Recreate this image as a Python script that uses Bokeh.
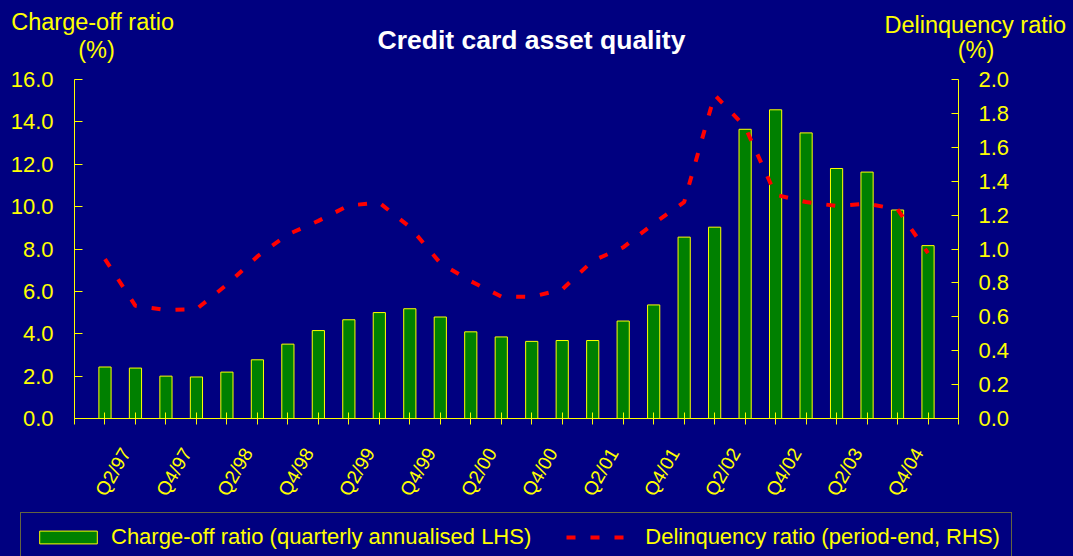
import math
from bokeh.plotting import figure
from bokeh.models import (Range1d, LinearAxis, FixedTicker, NumeralTickFormatter,
                          Label, Legend, LegendItem, ColumnDataSource)
from bokeh.embed import file_html
from bokeh.resources import INLINE

# ---------------- data ----------------
quarters = ["Q1/97", "Q2/97", "Q3/97", "Q4/97",
            "Q1/98", "Q2/98", "Q3/98", "Q4/98",
            "Q1/99", "Q2/99", "Q3/99", "Q4/99",
            "Q1/00", "Q2/00", "Q3/00", "Q4/00",
            "Q1/01", "Q2/01", "Q3/01", "Q4/01",
            "Q1/02", "Q2/02", "Q3/02", "Q4/02",
            "Q1/03", "Q2/03", "Q3/03", "Q4/03"]

# labels shown on the axis (every second quarter, as printed in the original)
tick_labels = ["Q2/97", "Q4/97", "Q2/98", "Q4/98", "Q2/99", "Q4/99", "Q2/00",
               "Q4/00", "Q2/01", "Q4/01", "Q2/02", "Q4/02", "Q2/03", "Q4/04"]

charge_off = [2.43, 2.38, 2.00, 1.96, 2.19, 2.77, 3.51, 4.15, 4.66, 5.00,
              5.18, 4.79, 4.09, 3.85, 3.64, 3.68, 3.68, 4.60, 5.36, 8.56,
              9.03, 13.65, 14.57, 13.48, 11.80, 11.63, 9.84, 8.16]

delinquency = [0.94, 0.665, 0.64, 0.645, 0.79, 0.956, 1.086, 1.166, 1.257, 1.273,
               1.13, 0.917, 0.81, 0.72, 0.717, 0.762, 0.93, 1.01, 1.15, 1.277,
               1.91, 1.72, 1.32, 1.277, 1.254, 1.267, 1.234, 0.976]

series_names = ["Charge-off ratio (quarterly annualised LHS)",
                "Delinquency ratio (period-end, RHS)"]

# ---------------- styling ----------------
NAVY = "#000080"
YELLOW = "#FFFF00"
GREEN = "#008000"
RED = "#FF0000"
FONT = "Liberation Sans"
DASH = "9 15"

W = 1073
TOP_H = 68           # heading strip
FOOT_H = 49          # legend strip
MAIN_H = 556 - TOP_H - FOOT_H
ML, MR, MT = 74, 115, 11
MB = MAIN_H - MT - 343
N_POS = len(quarters) + 1  # positions 0 .. 29

def strip(height, xr, yr):
    f = figure(width=W, height=height, x_range=xr, y_range=yr,
               output_backend="svg", toolbar_location=None,
               x_axis_location=None, y_axis_location=None,
               background_fill_color=NAVY, border_fill_color=NAVY,
               outline_line_color=None, min_border=0)
    f.xgrid.visible = False
    f.ygrid.visible = False
    return f

# ---------------- heading strip (titles) ----------------
head = strip(TOP_H, Range1d(0, W), Range1d(TOP_H, 0))

def add_text(txt, px, py, size, align="left", color=YELLOW, bold=False):
    head.add_layout(Label(x=px, y=py, text=txt, text_align=align,
                          text_baseline="middle", text_color=color,
                          text_font=FONT, text_font_size=size,
                          text_font_style="bold" if bold else "normal"))

add_text("Credit card asset quality", 531, 39.1, "26.5px", align="center",
         color="#FFFFFF", bold=True)
add_text("Charge-off ratio", 10.7, 21.2, "23.5px")
add_text("(%)", 96, 49, "23.5px", align="center")
add_text("Delinquency ratio", 884, 24.2, "23.5px")
add_text("(%)", 975.5, 49.3, "23.5px", align="center")

# ---------------- main chart ----------------
xpos = list(range(1, len(quarters) + 1))
src = ColumnDataSource(dict(x=xpos, q=quarters, co=charge_off, dq=delinquency))

p = figure(width=W, height=MAIN_H, x_range=Range1d(0, N_POS), y_range=Range1d(0, 16),
           output_backend="svg", toolbar_location=None,
           background_fill_color=NAVY, border_fill_color=NAVY,
           outline_line_color=None,
           min_border_left=ML, min_border_right=MR,
           min_border_top=MT, min_border_bottom=MB)
p.xgrid.visible = False
p.ygrid.visible = False

p.extra_y_ranges = {"dq": Range1d(0, 2)}

bar_style = dict(fill_color=GREEN, line_color=YELLOW, line_width=1)
line_style = dict(line_color=RED, line_width=4, line_dash=DASH)

bars = p.vbar(x="x", top="co", width=0.4, source=src, **bar_style)
line = p.line(x="x", y="dq", source=src, y_range_name="dq", **line_style)

def style_axis(ax):
    ax.axis_line_color = YELLOW
    ax.axis_line_width = 1
    ax.major_tick_line_color = YELLOW
    ax.minor_tick_line_color = None
    ax.major_label_text_color = YELLOW
    ax.major_label_text_font = FONT
    ax.major_label_text_font_size = "22px"

yl = p.yaxis[0]
style_axis(yl)
yl.ticker = FixedTicker(ticks=[0, 2, 4, 6, 8, 10, 12, 14, 16])
yl.formatter = NumeralTickFormatter(format="0.0")
yl.major_tick_in = 8
yl.major_tick_out = 0
yl.major_label_standoff = 21

yr = LinearAxis(y_range_name="dq")
style_axis(yr)
yr.ticker = FixedTicker(ticks=[0, 0.2, 0.4, 0.6, 0.8, 1.0, 1.2, 1.4, 1.6, 1.8, 2.0])
yr.formatter = NumeralTickFormatter(format="0.0")
yr.major_tick_in = 7
yr.major_tick_out = 0
yr.major_label_standoff = 20
p.add_layout(yr, "right")

# x axis: tick marks at every category (minor ticks), labels (major ticks)
# slightly left of their category so the rotated text ends under the tick
LABEL_SHIFT = -0.31
label_pos = [2 + 2 * k + LABEL_SHIFT for k in range(len(tick_labels))]
xa = p.xaxis[0]
style_axis(xa)
xa.ticker = FixedTicker(ticks=label_pos, minor_ticks=list(range(0, N_POS + 1)))
xa.major_label_overrides = {pos: lab for pos, lab in zip(label_pos, tick_labels)}
xa.major_tick_in = 0
xa.major_tick_out = 0
xa.minor_tick_line_color = YELLOW
xa.minor_tick_in = 6
xa.minor_tick_out = 6
xa.major_label_orientation = math.radians(60)
xa.major_label_standoff = 25
xa.major_label_text_font_size = "19px"

# ---------------- legend strip ----------------
# key renderers share the chart's data; the strip's ranges keep them out of view
foot = strip(FOOT_H, Range1d(-10, -9), Range1d(0, 1))
key_bar = foot.vbar(x="x", top="co", width=0.4, source=src, **bar_style)
key_line = foot.line(x="x", y="dq", source=src, **line_style)

legend = Legend(items=[
    LegendItem(label=series_names[0], renderers=[key_bar]),
    LegendItem(label=series_names[1], renderers=[key_line]),
], orientation="horizontal", location=(20, -6.3))
legend.background_fill_color = NAVY
legend.background_fill_alpha = 1
legend.border_line_color = "#C8C800"
legend.border_line_width = 1
legend.label_text_color = YELLOW
legend.label_text_font = FONT
legend.label_text_font_size = "22px"
legend.glyph_width = 72
legend.glyph_height = 16
legend.label_height = 22
legend.label_standoff = 7
legend.spacing = 35
legend.padding = 11
legend.margin = 0
foot.add_layout(legend)

html = file_html([head, p, foot], INLINE)
html = html.replace("</head>",
                    "<style>html, body {background-color: #000080; margin: 0; padding: 0;}</style></head>", 1)
open("out.html", "w").write(html)
